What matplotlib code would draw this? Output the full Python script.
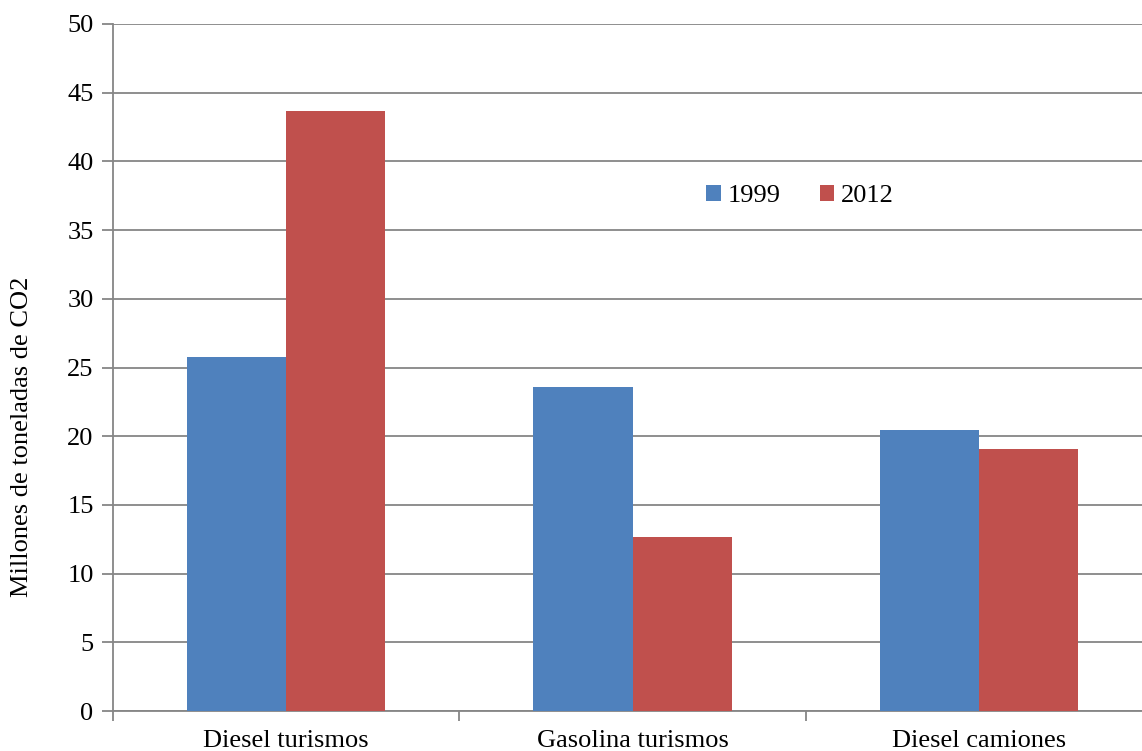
import matplotlib.pyplot as plt
import numpy as np

categories = ['Diesel turismos', 'Gasolina turismos', 'Diesel camiones']
years = ['1999', '2012']
values_1999 = [25.8, 23.6, 20.45]
values_2012 = [43.7, 12.7, 19.05]

plt.rcParams['font.family'] = ['Liberation Serif', 'DejaVu Serif']

fig = plt.figure(figsize=(11.42, 7.51), dpi=100)
# plot area runs slightly past the right edge of the figure
ax = fig.add_axes([113 / 1142, 40 / 751, 1039 / 1142, 687 / 751])

x = np.arange(len(categories))
w = 0.286
ax.bar(x - w / 2, values_1999, w, color='#4F81BD', label=years[0], zorder=3)
ax.bar(x + w / 2, values_2012, w, color='#C0504D', label=years[1], zorder=3)

ax.set_xlim(-0.5, 2.5)
ax.set_ylim(0, 50)
ax.set_yticks(np.arange(0, 51, 5))
ax.yaxis.grid(True, color='#868686', linewidth=1.3, zorder=0)

# category labels centred, tick marks on the boundaries
ax.set_xticks(x)
ax.set_xticklabels(categories, fontsize=19)
ax.tick_params(axis='x', length=0, pad=14)
ax.set_xticks([-0.5, 0.5, 1.5], minor=True)
ax.tick_params(axis='x', which='minor', length=7, width=1.3, color='#868686')
ax.tick_params(axis='y', labelsize=19, length=8, width=1.3, color='#868686', pad=6)

for s in ['top', 'right']:
    ax.spines[s].set_visible(False)
for s in ['left', 'bottom']:
    ax.spines[s].set_color('#868686')
    ax.spines[s].set_linewidth(1.3)

ax.set_ylabel('Millones de toneladas de CO2', fontsize=19)
ax.yaxis.set_label_coords(-80 / 1039, (711 - 437) / 687)

ax.legend(loc='center', bbox_to_anchor=((800 - 113) / 1039, (711 - 196) / 687), ncol=2,
          frameon=False, fontsize=19, handlelength=0.55, handleheight=0.55,
          handletextpad=0.25, columnspacing=1.5)

fig.savefig('out.png', dpi=100)
